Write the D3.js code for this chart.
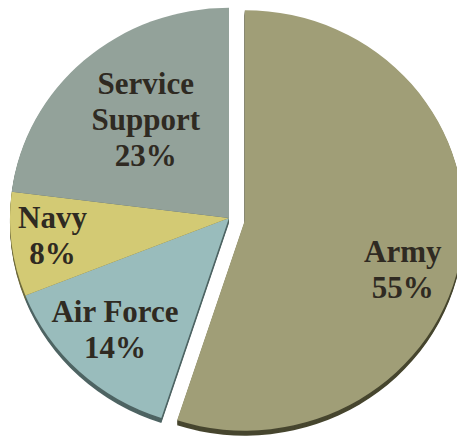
<!DOCTYPE html>
<meta charset="utf-8">
<script src="https://d3js.org/d3.v7.min.js"></script>
<style>
  body { margin: 0; background: #fff; }
</style>
<div id="chart"></div>
<script>

var w = 457, h = 440

// data
var branches = ["Army", "Air Force", "Navy", "Service Support"]
var shares = [55, 14, 8, 23]
var colors = ["#a09e77", "#99bcbc", "#d3ca74", "#93a29a"]
var sideColors = ["#47462f", "#4e6463", "#6e6a3c", "#55615b"]

var R = 219, ry = 0.96
var cx = 229, cy = 218
var depth = 5
var explode = [16, 0, 0, 0]
// label placement: radius factor and position within the slice
var labelK = [0.757, 0.74, 0.81, 0.605]
var labelT = [0.544, 0.53, 0.55, 0.53]

var svg = d3.select("#chart")
  .append("svg")
    .attr("width", w)
    .attr("height", h)

var pie = d3.pie().sort(null).value(d => d.v)
var data = pie(branches.map((b, i) => ({name: b, v: shares[i], i: i})))

var arc = d3.arc().innerRadius(0).outerRadius(R)

function offset(d) {
  var a = (d.startAngle + d.endAngle) / 2
  var e = explode[d.data.i]
  return [e * Math.sin(a), -e * Math.cos(a) * ry]
}

// side (thickness)
for (var k = depth; k >= 1; k--) {
  svg.append("g")
    .attr("transform", `translate(${cx},${cy + k})`)
    .selectAll("path")
    .data(data)
    .enter()
    .append("path")
      .attr("transform", d => { var o = offset(d); return `translate(${o[0]},${o[1]}) scale(1,${ry})` })
      .attr("d", arc)
      .style("fill", d => sideColors[d.data.i])
}

// top face
svg.append("g")
  .attr("transform", `translate(${cx},${cy})`)
  .selectAll("path")
  .data(data)
  .enter()
  .append("path")
    .attr("transform", d => { var o = offset(d); return `translate(${o[0]},${o[1]}) scale(1,${ry})` })
    .attr("d", arc)
    .style("fill", d => colors[d.data.i])

// labels
var lines = {
  "Army": ["Army"],
  "Air Force": ["Air Force"],
  "Navy": ["Navy"],
  "Service Support": ["Service", "Support"]
}
var lh = 36

var labels = svg.append("g")
  .attr("transform", `translate(${cx},${cy})`)
  .selectAll("text")
  .data(data)
  .enter()
  .append("text")
    .attr("text-anchor", "middle")
    .attr("font-family", "'Liberation Serif', 'Times New Roman', serif")
    .attr("font-weight", "bold")
    .attr("font-size", "31px")
    .attr("fill", "#2f2a22")
    .attr("transform", d => {
      var i = d.data.i
      var a = d.startAngle + (d.endAngle - d.startAngle) * labelT[i]
      var r = R * labelK[i]
      var o = offset(d)
      return `translate(${o[0] + r * Math.sin(a)},${o[1] - r * Math.cos(a) * ry})`
    })

labels.each(function(d) {
  var t = lines[d.data.name].concat([d.data.v + "%"])
  var top = -(t.length - 1) * lh / 2 + 11
  d3.select(this).selectAll("tspan")
    .data(t)
    .enter()
    .append("tspan")
      .attr("x", 0)
      .attr("y", (s, j) => top + j * lh)
      .text(s => s)
})

</script>
